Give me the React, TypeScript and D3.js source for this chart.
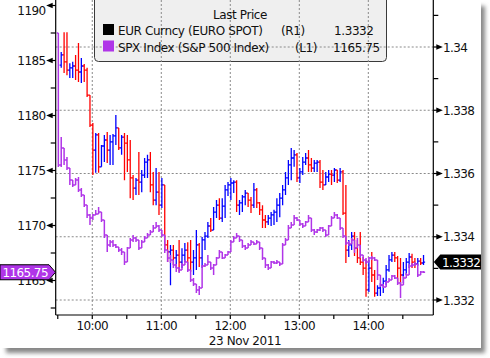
import React from 'react';
import * as d3 from 'd3';

// ---------- data ----------
const eurOpen0 = 1.33943;
const eurHigh = [
  1.33984, 1.34047, 1.34047, 1.33949, 1.33953, 1.33975, 1.34013, 1.33965, 1.33946, 1.33934,
  1.33848, 1.33760, 1.33728, 1.33728, 1.33690, 1.33722, 1.33731, 1.33722, 1.33725, 1.33785,
  1.33744, 1.33722, 1.33728, 1.33722, 1.33706, 1.33595, 1.33586, 1.33668, 1.33611, 1.33649,
  1.33659, 1.33668, 1.33605, 1.33617, 1.33605, 1.33586, 1.33564, 1.33390, 1.33374, 1.33374,
  1.33358, 1.33390, 1.33364, 1.33380, 1.33383, 1.33390, 1.33358, 1.33421, 1.33380, 1.33399,
  1.33415, 1.33447, 1.33459, 1.33494, 1.33516, 1.33522, 1.33522, 1.33564, 1.33573, 1.33586,
  1.33579, 1.33579, 1.33516, 1.33532, 1.33548, 1.33532, 1.33526, 1.33570, 1.33554, 1.33510,
  1.33500, 1.33469, 1.33469, 1.33478, 1.33485, 1.33522, 1.33538, 1.33564, 1.33605, 1.33643,
  1.33681, 1.33674, 1.33665, 1.33617, 1.33652, 1.33665, 1.33674, 1.33649, 1.33643, 1.33643,
  1.33643, 1.33611, 1.33605, 1.33611, 1.33611, 1.33617, 1.33605, 1.33617, 1.33611, 1.33564,
  1.33390, 1.33415, 1.33415, 1.33390, 1.33415, 1.33336, 1.33327, 1.33327, 1.33352, 1.33295,
  1.33247, 1.33254, 1.33270, 1.33311, 1.33342, 1.33352, 1.33352, 1.33339, 1.33333, 1.33320,
  1.33333, 1.33349, 1.33346, 1.33333, 1.33333, 1.33333, 1.33342,
];
const eurLow = [
  1.33934, 1.33918, 1.33911, 1.33902, 1.33902, 1.33896, 1.33889, 1.33886, 1.33889, 1.33842,
  1.33747, 1.33595, 1.33602, 1.33602, 1.33621, 1.33636, 1.33633, 1.33627, 1.33627, 1.33690,
  1.33674, 1.33659, 1.33579, 1.33605, 1.33522, 1.33516, 1.33532, 1.33532, 1.33541, 1.33586,
  1.33586, 1.33541, 1.33500, 1.33500, 1.33469, 1.33491, 1.33358, 1.33320, 1.33247, 1.33311,
  1.33301, 1.33289, 1.33301, 1.33320, 1.33295, 1.33289, 1.33279, 1.33295, 1.33304, 1.33301,
  1.33358, 1.33396, 1.33415, 1.33421, 1.33459, 1.33453, 1.33447, 1.33459, 1.33529, 1.33516,
  1.33538, 1.33478, 1.33469, 1.33478, 1.33500, 1.33494, 1.33475, 1.33491, 1.33491, 1.33469,
  1.33428, 1.33428, 1.33437, 1.33434, 1.33437, 1.33447, 1.33462, 1.33500, 1.33532, 1.33564,
  1.33579, 1.33621, 1.33573, 1.33570, 1.33595, 1.33627, 1.33605, 1.33605, 1.33605, 1.33605,
  1.33554, 1.33548, 1.33564, 1.33573, 1.33564, 1.33573, 1.33570, 1.33573, 1.33469, 1.33317,
  1.33336, 1.33358, 1.33339, 1.33317, 1.33311, 1.33279, 1.33210, 1.33225, 1.33257, 1.33210,
  1.33213, 1.33213, 1.33222, 1.33247, 1.33289, 1.33320, 1.33320, 1.33257, 1.33247, 1.33254,
  1.33279, 1.33301, 1.33301, 1.33301, 1.33308, 1.33311, 1.33311,
];
const eurClose = [
  1.33975, 1.33953, 1.33927, 1.33934, 1.33940, 1.33927, 1.33921, 1.33940, 1.33927, 1.33848,
  1.33753, 1.33674, 1.33722, 1.33621, 1.33687, 1.33706, 1.33674, 1.33700, 1.33719, 1.33744,
  1.33681, 1.33715, 1.33696, 1.33643, 1.33586, 1.33554, 1.33579, 1.33573, 1.33595, 1.33636,
  1.33643, 1.33564, 1.33516, 1.33541, 1.33500, 1.33564, 1.33374, 1.33352, 1.33358, 1.33333,
  1.33342, 1.33320, 1.33342, 1.33358, 1.33333, 1.33320, 1.33333, 1.33374, 1.33333, 1.33390,
  1.33402, 1.33434, 1.33421, 1.33478, 1.33500, 1.33459, 1.33497, 1.33548, 1.33564, 1.33570,
  1.33573, 1.33500, 1.33507, 1.33526, 1.33538, 1.33516, 1.33500, 1.33548, 1.33507, 1.33485,
  1.33453, 1.33447, 1.33459, 1.33469, 1.33478, 1.33500, 1.33522, 1.33548, 1.33586, 1.33627,
  1.33649, 1.33659, 1.33586, 1.33605, 1.33636, 1.33649, 1.33627, 1.33617, 1.33633, 1.33636,
  1.33573, 1.33564, 1.33589, 1.33598, 1.33595, 1.33611, 1.33579, 1.33605, 1.33475, 1.33358,
  1.33374, 1.33402, 1.33364, 1.33333, 1.33320, 1.33301, 1.33232, 1.33301, 1.33279, 1.33222,
  1.33238, 1.33247, 1.33260, 1.33295, 1.33327, 1.33342, 1.33333, 1.33301, 1.33279, 1.33295,
  1.33320, 1.33336, 1.33320, 1.33314, 1.33323, 1.33317, 1.33320,
];

const spxOpen0 = 1187.5;
const spxHigh = [
  1187.5, 1178.05, 1177.05, 1176.23, 1175.23, 1174.14, 1174.32, 1174.41, 1173.41, 1172.77,
  1171.86, 1171.05, 1171.05, 1171.41, 1171.68, 1171.23, 1170.5, 1169.14, 1168.68, 1168.68,
  1168.32, 1168.05, 1167.95, 1167.59, 1168.05, 1168.86, 1169.14, 1168.95, 1168.68, 1168.68,
  1169.05, 1169.32, 1169.59, 1170.05, 1170.32, 1170.05, 1169.59, 1169.14, 1167.77, 1167.32,
  1166.86, 1166.5, 1166.23, 1166.59, 1166.86, 1166.68, 1165.95, 1165.23, 1164.68, 1164.5,
  1166.41, 1166.59, 1167.32, 1166.68, 1166.5, 1167.14, 1167.77, 1167.59, 1167.41, 1167.68,
  1168.68, 1169.05, 1169.32, 1169.05, 1168.68, 1168.23, 1168.41, 1168.68, 1168.5, 1168.68,
  1168.5, 1167.95, 1167.05, 1166.5, 1166.77, 1166.77, 1166.86, 1166.68, 1168.41, 1168.86,
  1170.05, 1170.32, 1170.95, 1170.77, 1170.5, 1170.23, 1170.41, 1170.95, 1170.68, 1169.68,
  1169.68, 1169.86, 1169.86, 1169.59, 1170.05, 1170.86, 1171.23, 1171.05, 1170.68, 1169.77,
  1169.05, 1168.59, 1168.86, 1168.68, 1168.86, 1168.23, 1167.32, 1167.05, 1167.14, 1167.23,
  1167.14, 1166.86, 1165.5, 1164.68, 1164.95, 1165.23, 1165.5, 1165.5, 1165.23, 1164.86,
  1165.41, 1165.68, 1166.5, 1166.59, 1166.68, 1166.5, 1165.86, 1165.86,
];
const spxLow = [
  1175.32, 1175.32, 1175.5, 1175.05, 1173.68, 1173.5, 1173.68, 1173.05, 1172.59, 1171.68,
  1170.68, 1170.05, 1170.5, 1170.95, 1171.05, 1170.32, 1168.86, 1167.59, 1168.05, 1168.05,
  1167.95, 1167.59, 1167.32, 1166.41, 1166.68, 1167.95, 1168.5, 1168.5, 1167.77, 1167.95,
  1168.5, 1168.86, 1169.14, 1169.41, 1169.77, 1169.41, 1168.95, 1167.5, 1166.68, 1166.59,
  1166.14, 1165.77, 1165.68, 1165.95, 1166.41, 1165.77, 1164.86, 1164.5, 1163.86, 1163.68,
  1164.32, 1166.23, 1166.41, 1165.95, 1165.5, 1166.41, 1167.05, 1166.95, 1167.05, 1167.32,
  1167.59, 1168.5, 1168.86, 1168.5, 1167.95, 1167.77, 1167.95, 1168.23, 1168.23, 1168.32,
  1167.77, 1166.86, 1166.14, 1165.95, 1166.14, 1166.5, 1166.5, 1166.32, 1166.5, 1168.23,
  1168.68, 1169.77, 1170.05, 1170.41, 1169.95, 1169.77, 1169.95, 1170.32, 1169.41, 1169.14,
  1169.32, 1169.5, 1169.41, 1168.95, 1169.14, 1169.95, 1170.68, 1170.59, 1169.59, 1168.86,
  1168.23, 1168.14, 1168.32, 1167.5, 1167.95, 1167.05, 1166.68, 1166.5, 1166.68, 1166.86,
  1166.77, 1165.05, 1164.41, 1164.32, 1164.41, 1164.86, 1165.05, 1165.14, 1164.59, 1163.41,
  1164.59, 1165.23, 1165.5, 1166.23, 1166.32, 1165.32, 1165.5, 1165.68,
];
const spxClose = [
  1175.5, 1177.05, 1175.95, 1175.23, 1174.14, 1173.68, 1174.14, 1173.23, 1172.77, 1171.86,
  1170.95, 1170.68, 1170.95, 1171.05, 1171.23, 1170.5, 1169.14, 1168.23, 1168.5, 1168.23,
  1168.05, 1167.77, 1167.59, 1166.68, 1167.95, 1168.68, 1168.86, 1168.68, 1167.95, 1168.5,
  1168.86, 1169.14, 1169.41, 1169.77, 1169.95, 1169.59, 1169.14, 1167.77, 1167.05, 1166.86,
  1166.41, 1166.14, 1165.95, 1166.41, 1166.68, 1165.95, 1165.05, 1164.68, 1164.14, 1164.32,
  1166.32, 1166.41, 1166.68, 1166.14, 1166.41, 1167.05, 1167.59, 1167.05, 1167.32, 1167.59,
  1168.5, 1168.86, 1169.05, 1168.68, 1168.14, 1167.95, 1168.23, 1168.5, 1168.32, 1168.5,
  1167.95, 1167.05, 1166.41, 1166.14, 1166.68, 1166.59, 1166.68, 1166.5, 1168.23, 1168.68,
  1169.77, 1170.05, 1170.68, 1170.5, 1170.14, 1169.95, 1170.32, 1170.68, 1169.59, 1169.41,
  1169.59, 1169.77, 1169.59, 1169.14, 1169.95, 1170.68, 1170.95, 1170.68, 1169.77, 1169.05,
  1168.41, 1168.32, 1168.68, 1167.95, 1168.23, 1167.32, 1166.86, 1166.68, 1167.05, 1167.05,
  1166.86, 1165.5, 1164.59, 1164.41, 1164.86, 1165.05, 1165.41, 1165.23, 1164.77, 1164.59,
  1165.23, 1165.5, 1166.32, 1166.41, 1166.5, 1165.5, 1165.77, 1165.75,
];

const leftTicks = [1165, 1170, 1175, 1180, 1185, 1190];
const leftMinor = [1162.5, 1167.5, 1172.5, 1177.5, 1182.5, 1187.5];
const rightTicks = [1.332, 1.334, 1.336, 1.338, 1.34];
const rightMinor = [1.333, 1.335, 1.337, 1.339, 1.341];
const dateLabel = '23 Nov 2011';
const legendTitle = 'Last Price';
const eurName = 'EUR Curncy (EURO SPOT)';
const spxName = 'SPX Index (S&P 500 Index)';
const eurAxisTag = '(R1)';
const spxAxisTag = '(L1)';
const lastEur = 1.3332;
const lastSpx = 1165.75;

// ---------- style ----------
const FONT = "'DejaVu Sans',Verdana,sans-serif";
const BLUE = '#0000ff';
const RED = '#ff0000';
const PURPLE = '#b035e8';
const GRID = '#8a8a8a';

export default function App() {
  const W = 490, H = 358;
  const plotL = 55.7, plotR = 433.3, plotB = 315;
  const x = d3
    .scaleTime()
    .domain([new Date(2011, 10, 23, 9, 28, 12), new Date(2011, 10, 23, 14, 56, 30)])
    .range([plotL, plotR]);
  const yL = d3.scaleLinear().domain([1165, 1190]).range([280.5, 5.5]);
  const yR = d3.scaleLinear().domain([1.332, 1.34]).range([300, 47]);

  const barStart = new Date(2011, 10, 23, 9, 30, 30).getTime();
  const stepMs = 150000;
  const t = 1.6;

  const barPath = (xp: number, o: number, h: number, l: number, c: number, ys: (v: number) => number) => {
    const hi = Math.max(h, o, c);
    const lo = Math.min(l, o, c);
    return `M${xp},${ys(hi)}V${ys(lo)}M${xp - t},${ys(o)}H${xp}M${xp},${ys(c)}H${xp + t}`;
  };

  let bluePath = '';
  let redPath = '';
  eurClose.forEach((c, i) => {
    const o = i === 0 ? eurOpen0 : eurClose[i - 1];
    const xp = x(new Date(barStart + (i + 1) * stepMs));
    const p = barPath(xp, o, eurHigh[i], eurLow[i], c, yR);
    if (c >= o) bluePath += p;
    else redPath += p;
  });
  let purplePath = '';
  spxClose.forEach((c, k) => {
    const o = k === 0 ? spxOpen0 : spxClose[k - 1];
    const xp = x(new Date(barStart + k * stepMs));
    purplePath += barPath(xp, o, spxHigh[k], spxLow[k], c, yL);
  });

  const xTicks = d3.timeMinute
    .every(30)!
    .range(new Date(2011, 10, 23, 9, 30), new Date(2011, 10, 23, 14, 31));
  const hourTicks = xTicks.filter((d) => d.getMinutes() === 0);
  const fmt = d3.timeFormat('%H:%M');

  const txt = { fontFamily: FONT, fontSize: 12, fill: '#111' } as const;
  const legTxt = { ...txt, letterSpacing: -0.4 } as const;
  const numTxt = { ...txt, letterSpacing: -0.6 } as const;

  const yTagL = yL(lastSpx);
  const yTagR = yR(lastEur);

  return (
    <svg width={W} height={H} style={{ position: 'absolute', left: 0, top: 0, background: '#fff' }}>
      <defs>
        <filter id="sh" x="-5%" y="-5%" width="110%" height="110%">
          <feGaussianBlur stdDeviation="2.2" />
        </filter>
      </defs>
      <rect x={0} y={0} width={W} height={H} fill="#fff" />
      <rect x={6} y={6} width={479} height={347} fill="#888" filter="url(#sh)" />
      <rect x={0} y={0} width={481} height={348} fill="#fff" />

      {/* legend background */}
      <path
        d="M94.5,-2 V57.5 Q94.5,61.5 98.5,61.5 H382.5 Q386.5,61.5 386.5,57.5 V-2"
        fill="#efefef"
        stroke="#3a3a3a"
        strokeWidth={1}
      />

      {/* grid */}
      {rightTicks.map((v) => (
        <line key={'gh' + v} x1={plotL} x2={plotR} y1={yR(v)} y2={yR(v)} stroke={GRID} strokeDasharray="2,2" strokeWidth={1} />
      ))}
      {hourTicks.map((d) => (
        <line key={'gv' + d.getTime()} x1={x(d)} x2={x(d)} y1={0} y2={plotB} stroke={GRID} strokeDasharray="2,2" strokeWidth={1} />
      ))}

      {/* legend content */}
      <text x={240} y={18.5} textAnchor="middle" {...legTxt}>{legendTitle}</text>
      <rect x={103} y={24} width={11} height={11} fill="#000" />
      <rect x={103} y={40.5} width={11} height={11} fill={PURPLE} />
      <text x={118} y={35} {...legTxt}>{eurName}</text>
      <text x={281} y={35} {...legTxt}>{eurAxisTag}</text>
      <text x={334} y={35} {...legTxt}>{d3.format('.4f')(lastEur)}</text>
      <text x={118} y={51.5} {...legTxt}>{spxName}</text>
      <text x={295} y={51.5} {...legTxt}>{spxAxisTag}</text>
      <text x={333} y={51.5} {...legTxt}>{d3.format('.2f')(lastSpx)}</text>

      {/* series */}
      <path d={redPath} stroke={RED} strokeWidth={1.3} fill="none" />
      <path d={bluePath} stroke={BLUE} strokeWidth={1.3} fill="none" />
      <path d={purplePath} stroke={PURPLE} strokeWidth={1.5} fill="none" />

      {/* axes */}
      <line x1={plotL} x2={plotL} y1={0} y2={plotB} stroke="#000" strokeWidth={1.2} />
      <line x1={plotR} x2={plotR} y1={0} y2={plotB} stroke="#000" strokeWidth={1.2} />
      <line x1={plotL} x2={plotR} y1={plotB} y2={plotB} stroke="#000" strokeWidth={1.2} />

      {leftMinor.map((v) => (
        <line key={'lm' + v} x1={plotL - 5} x2={plotL} y1={yL(v)} y2={yL(v)} stroke="#000" strokeWidth={1.2} />
      ))}
      {leftTicks.map((v) => {
        const yy = yL(v);
        return (
          <g key={'lt' + v}>
            <path d={`M${plotL - 9.5},${yy} L${plotL - 3},${yy - 2.8} L${plotL - 3},${yy + 2.8} Z`} fill="#000" />
            <line x1={plotL - 4} x2={plotL} y1={yy} y2={yy} stroke="#000" strokeWidth={1.2} />
            <text x={45.5} y={Math.max(yy + 4.5, 15)} textAnchor="end" {...numTxt}>{v}</text>
          </g>
        );
      })}
      {rightMinor.map((v) => (
        <line key={'rm' + v} x1={plotR} x2={plotR + 5} y1={yR(v)} y2={yR(v)} stroke="#000" strokeWidth={1.2} />
      ))}
      {rightTicks.map((v) => {
        const yy = yR(v);
        return (
          <g key={'rt' + v}>
            <line x1={plotR} x2={plotR + 4} y1={yy} y2={yy} stroke="#000" strokeWidth={1.2} />
            <path d={`M${plotR + 9.5},${yy} L${plotR + 3},${yy - 2.8} L${plotR + 3},${yy + 2.8} Z`} fill="#000" />
            <text x={443} y={yy + 4.5} {...numTxt}>{d3.format('')(v)}</text>
          </g>
        );
      })}
      {xTicks.map((d) => (
        <line key={'xt' + d.getTime()} x1={x(d)} x2={x(d)} y1={plotB} y2={plotB + 4} stroke="#000" strokeWidth={1.2} />
      ))}
      {hourTicks.map((d) => (
        <text key={'xl' + d.getTime()} x={x(d)} y={330} textAnchor="middle" {...numTxt}>{fmt(d)}</text>
      ))}
      <text x={245} y={345} textAnchor="middle" {...legTxt}>{dateLabel}</text>

      {/* last value tags */}
      <path
        d={`M0,${yTagL - 7.5} H49 L55.5,${yTagL} L49,${yTagL + 7.5} H0 Z`}
        fill={PURPLE}
        stroke="#000"
        strokeWidth={1}
      />
      <text x={2.5} y={yTagL + 5} fontFamily={FONT} fontSize={12} letterSpacing={-0.6} fill="#fff">{d3.format('.2f')(lastSpx)}</text>
      <path
        d={`M${plotR + 0.5},${yTagR} L${plotR + 7},${yTagR - 7.5} H481 V${yTagR + 7.5} H${plotR + 7} Z`}
        fill="#000"
      />
      <text x={442} y={yTagR + 5} fontFamily={FONT} fontSize={12} letterSpacing={-0.6} fill="#fff">{d3.format('.4f')(lastEur)}</text>
    </svg>
  );
}
